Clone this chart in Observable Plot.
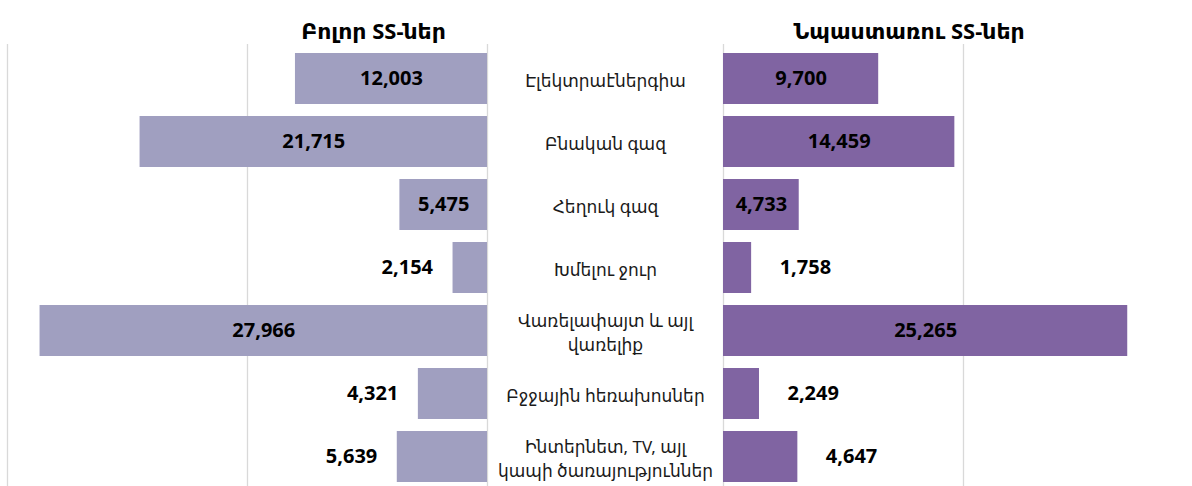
<!DOCTYPE html>
<html>
<head>
<meta charset="utf-8">
<script src="https://cdn.jsdelivr.net/npm/d3@7"></script>
<script src="https://cdn.jsdelivr.net/npm/@observablehq/plot@0.6"></script>
<style>
  html, body { margin: 0; padding: 0; background: #fff; overflow: hidden; }
  #chart svg { display: block; }
</style>
</head>
<body>
<div id="chart"></div>
<script>
const categories = [
  "Էլեկտրաէներգիա",
  "Բնական գազ",
  "Հեղուկ գազ",
  "Խմելու ջուր",
  "Վառելափայտ և այլ\nվառելիք",
  "Բջջային հեռախոսներ",
  "Ինտերնետ, TV, այլ\nկապի ծառայություններ"
];
const allSS = [12003, 21715, 5475, 2154, 27966, 4321, 5639];
const beneficiarySS = [9700, 14459, 4733, 1758, 25265, 2249, 4647];
const panelTitles = ["Բոլոր SS-ներ", "Նպաստառու SS-ներ"];
const gridValues = [0, 15000, 30000];

const W = 1192, H = 486;
const half = 7375;               // half of the centre label column, in data units
const leftColor = "#a09fc0";
const rightColor = "#8064a2";
const font = "Noto Sans, DejaVu Sans, sans-serif";
const outsideRows = new Set([3, 5, 6]); // rows whose value labels sit beside the bar

const rows = categories.map((c, i) => ({cat: c, i, all: allSS[i], ben: beneficiarySS[i]}));
const fmt = d3.format(",");

const xScale = {type: "linear", domain: [-(30000 + half), 30000 + half], range: [7, 1203]};
const toPx = v => 7 + (v + 30000 + half) / (2 * (30000 + half)) * (1203 - 7);
const grid = gridValues.flatMap(v => [-half - v, half + v]).filter(v => toPx(v) <= W);

const titles = [
  {t: panelTitles[0], x: -half - 7125},
  {t: panelTitles[1], x: half + 11600}
];

const chart = Plot.plot({
  width: W,
  height: H,
  marginTop: 44,
  marginBottom: 0,
  marginLeft: 0,
  marginRight: 0,
  style: {fontFamily: font, background: "white"},
  x: {...xScale, axis: null},
  y: {domain: categories, range: [38.2, 496.6], padding: 0.185, axis: null},
  marks: [
    Plot.ruleX(grid, {stroke: "#d9d9d9", strokeWidth: 1.3}),
    Plot.barX(rows, {y: "cat", x1: () => -half, x2: d => -half - d.all, fill: leftColor, inset: 0}),
    Plot.barX(rows, {y: "cat", x1: () => half, x2: d => half + d.ben, fill: rightColor, inset: 0}),
    // category labels
    Plot.text(rows, {y: "cat", x: () => 0, text: "cat", fontSize: 17, fill: "#1a1a1a", lineHeight: 1.4, textAnchor: "middle"}),
    // left value labels
    Plot.text(rows.filter(d => !outsideRows.has(d.i)), {y: "cat", x: d => -half - d.all / 2, text: d => fmt(d.all), fontSize: 20, fontWeight: "bold", fill: "#000", textAnchor: "middle"}),
    Plot.text(rows.filter(d => outsideRows.has(d.i)), {y: "cat", x: d => -half - d.all, dx: -20, text: d => fmt(d.all), fontSize: 20, fontWeight: "bold", fill: "#000", textAnchor: "end"}),
    // right value labels
    Plot.text(rows.filter(d => !outsideRows.has(d.i)), {y: "cat", x: d => half + d.ben / 2, text: d => fmt(d.ben), fontSize: 20, fontWeight: "bold", fill: "#000", textAnchor: "middle"}),
    Plot.text(rows.filter(d => outsideRows.has(d.i)), {y: "cat", x: d => half + d.ben, dx: 28, text: d => fmt(d.ben), fontSize: 20, fontWeight: "bold", fill: "#000", textAnchor: "start"}),
    // panel titles
    Plot.text(titles, {x: "x", frameAnchor: "top", dy: -21, text: "t", fontSize: 22, fontWeight: "bold", fill: "#000", textAnchor: "middle"})
  ]
});
document.getElementById("chart").append(chart);
</script>
</body>
</html>
